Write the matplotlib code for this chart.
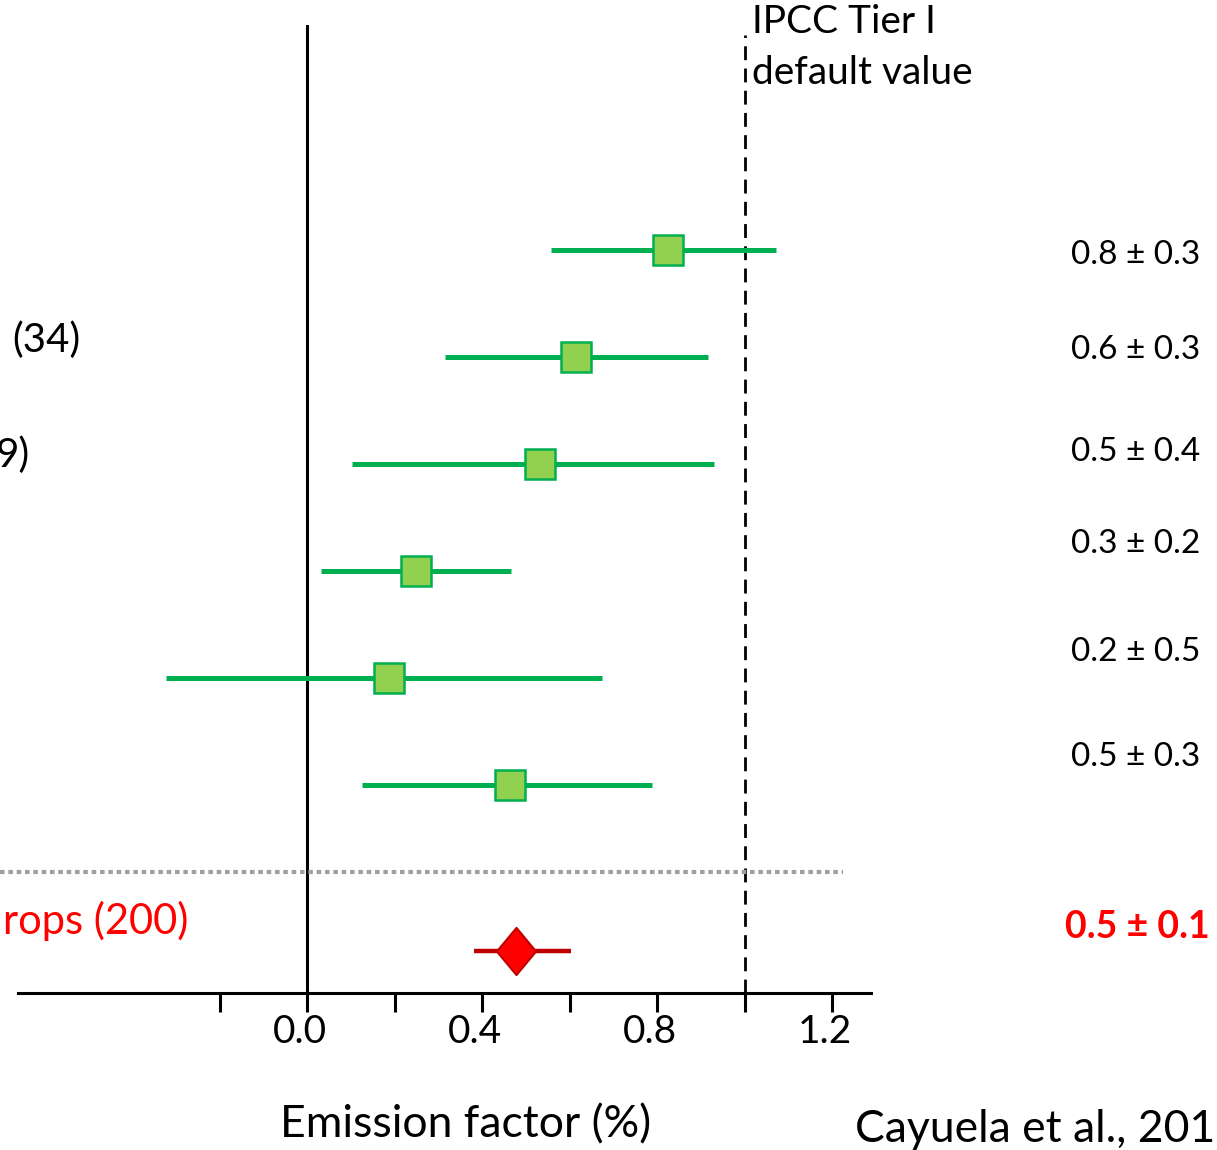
import numpy as np
import matplotlib.pyplot as plt
from matplotlib.path import Path
from matplotlib import transforms

plt.rcParams['font.family'] = ['Lato', 'DejaVu Sans']

# Emission factors (%), one row per sub-group
ef_mean = [0.825, 0.615, 0.533, 0.249, 0.187, 0.464]
ef_low = [0.558, 0.315, 0.103, 0.032, -0.322, 0.126]
ef_high = [1.072, 0.917, 0.930, 0.466, 0.674, 0.789]
value_labels = ["0.8 ± 0.3", "0.6 ± 0.3", "0.5 ± 0.4", "0.3 ± 0.2", "0.2 ± 0.5", "0.5 ± 0.3"]
left_labels = ["", "(34)", "9)", "", "", ""]

# overall estimate
all_mean = 0.478
all_low = 0.382
all_high = 0.603
all_label = "0.5 ± 0.1"
all_name = "rops (200)"

ipcc_default = 1.0
xticks = [-0.2, 0.0, 0.2, 0.4, 0.6, 0.8, 1.0, 1.2]
xtick_labels = ["", "0.0", "", "0.4", "", "0.8", "", "1.2"]

W, H = 1217, 1150
fig = plt.figure(figsize=(W / 100, H / 100), dpi=100)
ax = fig.add_axes([18 / W, 1 - 993 / H, 853 / W, 968 / H])

rows = np.arange(len(ef_mean))
all_row = 6.55
sep_row = 5.81

green_line = "#00B050"
green_fill = "#92D050"

ax.axvline(0, color="black", lw=2.2, zorder=1)
ax.axvline(ipcc_default, ymax=0.99, color="black", lw=2, dashes=(5, 3), zorder=1)

for r, m, lo, hi in zip(rows, ef_mean, ef_low, ef_high):
    ax.plot([lo, hi], [r, r], color=green_line, lw=3.6, solid_capstyle="butt", zorder=2)
    ax.plot(m, r, marker="s", ms=21, mfc=green_fill, mec=green_line, mew=1.8, zorder=3)

diamond = Path([(0, 1), (0.83, 0), (0, -1), (-0.83, 0), (0, 1)],
               [Path.MOVETO, Path.LINETO, Path.LINETO, Path.LINETO, Path.CLOSEPOLY])
ax.plot([all_low, all_high], [all_row, all_row], color="#C00000", lw=3.2,
        solid_capstyle="butt", zorder=2)
ax.plot(all_mean, all_row, marker=diamond, ms=34, mfc="#FF0000", mec="#C00000",
        mew=1.5, zorder=3)

x0 = -307 / 437.5
ax.plot([x0, 1.225], [sep_row, sep_row], color="#A0A0A0", lw=3,
        linestyle=(0, (1.1, 0.9)), clip_on=False, zorder=1)

ax.set_xlim(-289 / 437.5, 564 / 437.5)
ax.set_ylim(968 / 107 - 225 / 107, -225 / 107)
for s in ["left", "right", "top"]:
    ax.spines[s].set_visible(False)
ax.spines["bottom"].set_linewidth(2.2)
ax.set_yticks([])
ax.set_xticks(xticks)
ax.set_xticklabels(xtick_labels)
ax.tick_params(axis="x", direction="out", length=14, width=2.2, labelsize=28, pad=1)
shift = transforms.ScaledTranslation(-7 / 100, 0, fig.dpi_scale_trans)
for lab in ax.get_xticklabels():
    lab.set_transform(lab.get_transform() + shift)

# texts placed with figure x and data y
tr = transforms.blended_transform_factory(fig.transFigure, ax.transData)
label_shift = [0.05, -0.07, -0.11, -0.25, -0.24, -0.26]
for r, txt, d in zip(rows, value_labels, label_shift):
    ax.text(1200 / W, r + d, txt, transform=tr, ha="right", va="center",
            fontsize=24, clip_on=False)
ax.text(1210 / W, all_row - 0.22, all_label, transform=tr, ha="right", va="center",
        fontsize=27, fontweight="bold", color="#FF0000", clip_on=False)

ax.text(12 / W, 0.84, left_labels[1], transform=tr, ha="left", va="center",
        fontsize=29, clip_on=False)
ax.text(30 / W, 1.92, left_labels[2], transform=tr, ha="right", va="center",
        fontsize=29, clip_on=False)
ax.text(188 / W, 6.27, all_name, transform=tr, ha="right", va="center",
        fontsize=30, color="#FF0000", clip_on=False)

fig.text(752 / W, 1 - 22 / H, "IPCC Tier I", ha="left", va="center", fontsize=28)
fig.text(752 / W, 1 - 73 / H, "default value", ha="left", va="center", fontsize=28)

fig.text(466 / W, 1 - 1125 / H, "Emission factor (%)", ha="center", va="center", fontsize=32)
fig.text(855 / W, 1 - 1130 / H, "Cayuela et al., 2017", ha="left", va="center", fontsize=32)

fig.savefig("out.png", dpi=100)
